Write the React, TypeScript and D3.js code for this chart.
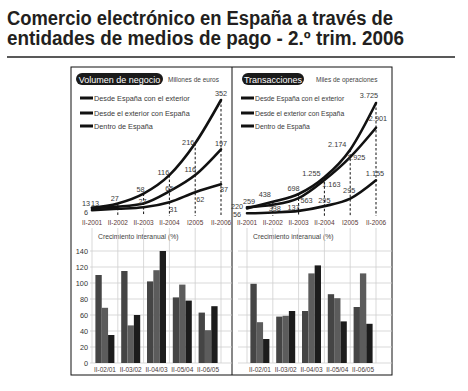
import React from "react";
import * as d3 from "d3";

// ---------- data ----------
const titleLines = [
  "Comercio electrónico en España a través de",
  "entidades de medios de pago - 2.º trim. 2006",
];
const years = ["II-2001", "II-2002", "II-2003", "II-2004", "I2005", "II-2006"];
const seriesNames = [
  "Desde España con el exterior",
  "Desde el exterior con España",
  "Dentro de España",
];
// Volumen de negocio (millones de euros)
const volExterior = [13, 27, 58, 116, 216, 352];
const volDesdeExterior = [13, 17, 27, 65, 116, 197];
const volDentro = [6, 10, 15, 31, 62, 87];
// Transacciones (miles de operaciones)
const trxExterior = [220, 438, 698, 1255, 2174, 3725];
const trxDesdeExterior = [259, 338, 563, 1163, 1925, 2901];
const trxDentro = [56, 85, 137, 295, 545, 1155];

const growthCats = ["II-02/01", "II-03/02", "II-04/03", "II-05/04", "II-06/05"];
const volGrowthA = [110, 115, 102, 82, 63];
const volGrowthB = [69, 47, 116, 98, 41];
const volGrowthC = [35, 60, 140, 78, 71];
const trxGrowthA = [99, 58, 65, 86, 70];
const trxGrowthB = [51, 59, 112, 81, 112];
const trxGrowthC = [30, 65, 122, 52, 49];
const growthTicks = [0, 20, 40, 60, 80, 100, 120, 140];

// point labels: series index, year index, text
const volLabels = [
  [0, 0, "13"], [1, 0, "13"], [2, 0, "6"],
  [0, 1, "27"],
  [0, 2, "58"], [1, 2, "27"],
  [0, 3, "116"], [1, 3, "65"], [2, 3, "31"],
  [0, 4, "216"], [1, 4, "116"], [2, 4, "62"],
  [0, 5, "352"], [1, 5, "197"], [2, 5, "87"],
];
const trxLabels = [
  [0, 0, "220"], [1, 0, "259"], [2, 0, "56"],
  [0, 1, "438"], [1, 1, "338"],
  [0, 2, "698"], [1, 2, "563"], [2, 2, "137"],
  [0, 3, "1.255"], [1, 3, "1.163"], [2, 3, "295"],
  [0, 4, "2.174"], [1, 4, "1.925"], [2, 4, "295"],
  [0, 5, "3.725"], [1, 5, "2.901"], [2, 5, "1.155"],
];
// label offsets (layout only)
const volOffsets = [
  [-6, -4], [3, -4], [-6, 2],
  [-3, -5],
  [-3, -4], [-1, -2],
  [-6, -3], [0, -3], [4, 7],
  [-7, -1], [-5, -6], [5, 7],
  [0, -7], [0, -6], [3, 5],
];
const trxOffsets = [
  [-10, -2], [2, -6], [-10, 1],
  [-8, -7], [2, 4],
  [-5, -6], [8, 2], [-5, -3],
  [-13, -4], [7, 4], [0, -6],
  [-13, -5], [6, 0], [-1, -8],
  [-7, -8], [2, -9], [-1, -7],
];

const FONT = "'Liberation Sans', Arial, Helvetica, sans-serif";
const TXT = "#3a3a3a";
const barColors = ["#454545", "#5c5c5c", "#1c1c1c"];

type PanelProps = {
  x0: number;
  pill: string;
  pillX: number;
  pillW: number;
  unit: string;
  unitX: number;
  legendX: number;
  legendSize: number;
  series: number[][];
  yMax: number;
  yTop: number;
  yBase: number;
  labels: (string | number)[][];
  offsets: number[][];
  growth: number[][];
  showYAxis: boolean;
  gridX0: number;
  gridX1: number;
  titleX: number;
};

function Panel(p: PanelProps) {
  const x = d3.scaleLinear().domain([0, years.length - 1]).range([p.x0, p.x0 + 25.8 * 5]);
  const y = d3.scaleLinear().domain([0, p.yMax]).range([p.yBase, p.yTop]);
  const line = d3
    .line<number>()
    .x((_, i) => x(i))
    .y((d) => y(d))
    .curve(d3.curveMonotoneX);

  const yb = d3.scaleLinear().domain([0, 140]).range([363, 251]);
  const inner = d3.scaleBand<number>().domain([0, 1, 2]).range([-9.5, 9.5]).padding(0);

  return (
    <g fontFamily={FONT}>
      {/* header pill */}
      <rect x={p.pillX} y={73} width={p.pillW} height={12} rx={6} fill="#1a1a1a" />
      <text x={p.pillX + p.pillW / 2} y={79.5} fill="#fff" fontSize={9} textAnchor="middle" dominantBaseline="central">
        {p.pill}
      </text>
      <text x={p.unitX} y={79.5} fill="#444" fontSize={6.5} dominantBaseline="central">
        {p.unit}
      </text>
      {/* legend */}
      {seriesNames.map((n, i) => {
        const ly = [98, 113, 126][i];
        return (
          <g key={n}>
            <line x1={p.legendX} x2={p.legendX + 13} y1={ly} y2={ly} stroke="#111" strokeWidth={3} />
            <text x={p.legendX + 14} y={ly} fontSize={p.legendSize} fill={TXT} dominantBaseline="central">
              {n}
            </text>
          </g>
        );
      })}
      {/* dashed drop lines */}
      {years.map((_, i) =>
        i === 0 ? null : (
          <line
            key={"d" + i}
            x1={x(i)}
            x2={x(i)}
            y1={y(d3.max(p.series, (s) => s[i]) as number)}
            y2={216}
            stroke="#111"
            strokeWidth={1}
            strokeDasharray="2.5,2"
          />
        )
      )}
      {/* lines */}
      {p.series.map((s, si) => (
        <path key={"l" + si} d={line(s) as string} fill="none" stroke="#111" strokeWidth={2.6} strokeLinecap="round" />
      ))}
      {/* point labels */}
      {p.labels.map((l, k) => {
        const si = l[0] as number;
        const i = l[1] as number;
        return (
          <text
            key={"pl" + k}
            x={x(i) + p.offsets[k][0]}
            y={y(p.series[si][i]) + p.offsets[k][1]}
            fontSize={7.3}
            fill={TXT}
            textAnchor="middle"
            dominantBaseline="central"
          >
            {l[2]}
          </text>
        );
      })}
      {/* year labels */}
      {years.map((t, i) => (
        <text key={"y" + i} x={x(i)} y={222} fontSize={6.5} fill="#5b3a36" textAnchor="middle" dominantBaseline="central">
          {t}
        </text>
      ))}
      {/* bar chart title */}
      <text x={p.titleX} y={236} fontSize={6.8} fill="#444" dominantBaseline="central">
        Crecimiento interanual (%)
      </text>
      {/* grid */}
      {growthTicks.map((t) => (
        <line key={"g" + t} x1={p.gridX0} x2={p.gridX1} y1={yb(t)} y2={yb(t)} stroke="#cfcfcf" strokeWidth={0.8} />
      ))}
      {years.map((_, i) => (
        <line key={"v" + i} x1={x(i)} x2={x(i)} y1={228} y2={363} stroke="#cfcfcf" strokeWidth={0.8} />
      ))}
      {p.showYAxis &&
        growthTicks.map((t) => (
          <text key={"yt" + t} x={88} y={yb(t)} fontSize={7.3} fill="#333" textAnchor="end" dominantBaseline="central">
            {t}
          </text>
        ))}
      {/* bars */}
      {growthCats.map((c, gi) => {
        const cx = (x(gi) + x(gi + 1)) / 2;
        return (
          <g key={c}>
            {p.growth.map((g, bi) => (
              <rect
                key={bi}
                x={cx + (inner(bi) as number)}
                y={yb(g[gi])}
                width={inner.bandwidth()}
                height={yb(0) - yb(g[gi])}
                fill={barColors[bi]}
              />
            ))}
            <text x={cx} y={369.5} fontSize={6.5} fill="#4a3a3a" textAnchor="middle" dominantBaseline="central">
              {c}
            </text>
          </g>
        );
      })}
    </g>
  );
}

export default function App() {
  return (
    <div style={{ position: "absolute", left: 0, top: 0 }}>
      <svg width={468} height={391} style={{ display: "block", background: "#fff" }}>
        <text x={7} y={25} fontFamily={FONT} fontWeight="bold" fontSize={19.5} fill="#231f20" textLength={386} lengthAdjust="spacingAndGlyphs">
          {titleLines[0]}
        </text>
        <text x={7} y={45} fontFamily={FONT} fontWeight="bold" fontSize={19.5} fill="#231f20" textLength={397} lengthAdjust="spacingAndGlyphs">
          {titleLines[1]}
        </text>
        <line x1={7} x2={455} y1={57} y2={57} stroke="#222" strokeWidth={1.3} />

        <rect x={71} y={67} width={321} height={308} fill="none" stroke="#111" strokeWidth={1} />
        <line x1={232} x2={232} y1={67} y2={375} stroke="#111" strokeWidth={1} />

        <Panel
          x0={92}
          pill="Volumen de negocio"
          pillX={76}
          pillW={87}
          unit="Millones de euros"
          unitX={168}
          legendX={80}
          legendSize={7.3}
          series={[volExterior, volDesdeExterior, volDentro]}
          yMax={352}
          yTop={100}
          yBase={212}
          labels={volLabels}
          offsets={volOffsets}
          growth={[volGrowthA, volGrowthB, volGrowthC]}
          showYAxis={true}
          gridX0={90}
          gridX1={232}
          titleX={98}
        />
        <Panel
          x0={247}
          pill="Transacciones"
          pillX={242}
          pillW={62}
          unit="Miles de operaciones"
          unitX={316}
          legendX={241}
          legendSize={6.8}
          series={[trxExterior, trxDesdeExterior, trxDentro]}
          yMax={3725}
          yTop={103}
          yBase={215}
          labels={trxLabels}
          offsets={trxOffsets}
          growth={[trxGrowthA, trxGrowthB, trxGrowthC]}
          showYAxis={false}
          gridX0={238}
          gridX1={392}
          titleX={253}
        />
      </svg>
    </div>
  );
}
